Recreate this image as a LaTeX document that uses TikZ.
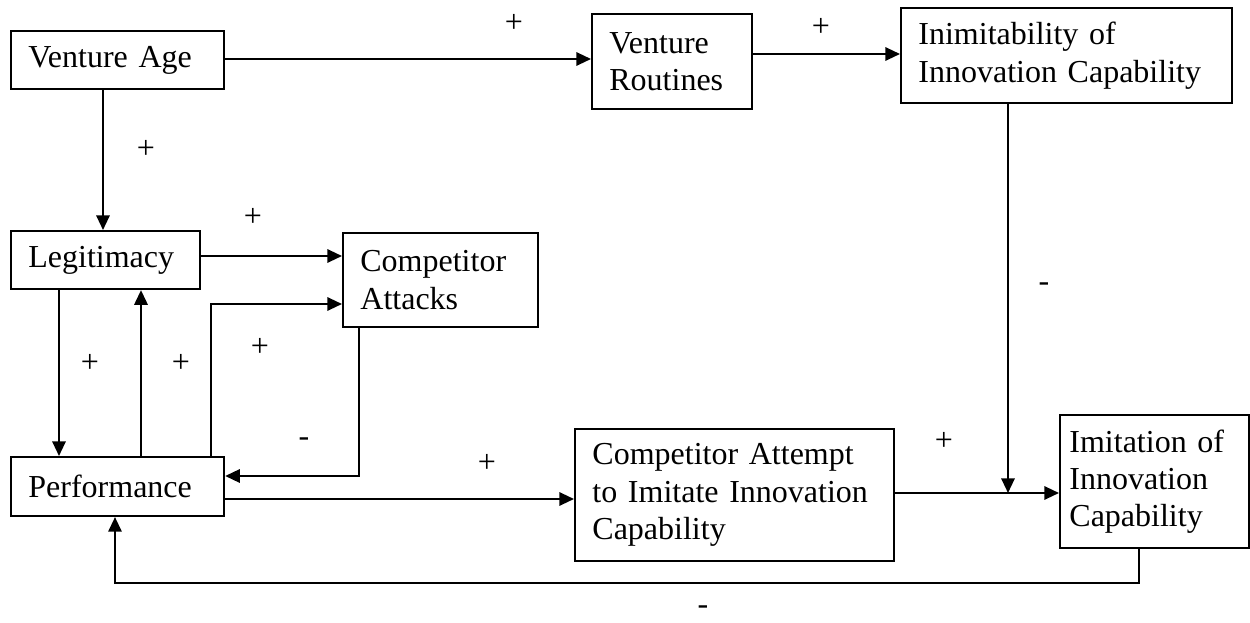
\documentclass[tikz,border=0pt]{standalone}
\usepackage{fontspec}
\setmainfont{Liberation Serif}
\usetikzlibrary{arrows.meta}

\begin{document}
\begin{tikzpicture}[
      x=0.375pt, y=-0.375pt,
      font=\fontsize{12}{14}\selectfont,
      box/.style={rectangle, draw, line width=0.8pt, anchor=north west,
                  align=left, inner xsep=6.5pt, inner ysep=0pt},
      arr/.style={-{Triangle[length=5.5pt, width=5pt]}, line width=0.8pt},
      sign/.style={inner sep=0pt}]
    \useasboundingbox (0,0) rectangle (1250,623);
    \node[box, text width=66.9pt, minimum height=21.75pt] (age) at (10,30) {Venture Age};
    \node[box, text width=47pt, minimum height=35.6pt] (routine) at (591,13) {Venture\\ Routines};
    \node[box, text width=111.1pt, minimum height=35.6pt] (inimit) at (900,7) {Inimitability of\\ Innovation Capability};
    \node[box, text width=57.9pt, minimum height=21.75pt] (legit) at (10,230) {Legitimacy};
    \node[box, text width=60.1pt, minimum height=35.25pt] (attack) at (342,232) {Competitor\\ Attacks};
    \node[box, text width=66.9pt, minimum height=22.1pt] (perf) at (10,456) {Performance};
    \node[box, text width=106.6pt, minimum height=49.5pt] (attempt) at (574,428) {Competitor Attempt\\ to Imitate Innovation\\ Capability};
    \node[box, text width=64pt, inner xsep=3.5pt, minimum height=49.9pt] (imit) at (1059,414) {Imitation of\\ Innovation\\ Capability};
    \coordinate (meet) at (1008,493);
    \draw[arr] (age.east |- 0,59) -- (routine.west |- 0,59);
    \draw[arr] (routine.east |- 0,54) -- (inimit.west |- 0,54);
    \draw[arr] (age.south -| 103,0) -- (legit.north -| 103,0);
    \draw[arr] (legit.east |- 0,256) -- (attack.west |- 0,256);
    \draw[arr] (legit.south -| 59,0) -- (perf.north -| 59,0);
    \draw[arr] (perf.north -| 141,0) -- (legit.south -| 141,0);
    \draw[arr] (perf.north -| 211,0) |- (attack.west |- 0,304);
    \draw[arr] (attack.south -| 359,0) |- (perf.east |- 0,476);
    \draw[arr] (perf.east |- 0,499) -- (attempt.west |- 0,499);
    \draw[arr] (attempt.east |- meet) -- (imit.west |- meet);
    \draw[arr] (inimit.south -| meet) -- (meet);
    \draw[arr] (imit.south -| 1139,0) -- ++(0,34) -| (perf.south -| 115,0);
    \node[sign] (s1) at (514,23) {+};
    \node[sign] (s2) at (821,27) {+};
    \node[sign] (s3) at (146,149) {+};
    \node[sign] (s4) at (253,217) {+};
    \node[sign] (s5) at (90,363) {+};
    \node[sign] (s6) at (181,363) {+};
    \node[sign] (s7) at (260,347) {+};
    \node[sign] (s8) at (304,442) {-};
    \node[sign] (s9) at (487,463) {+};
    \node[sign] (s10) at (944,441) {+};
    \node[sign] (s11) at (1044,287) {-};
    \node[sign] (s12) at (703,610) {-};
  \end{tikzpicture}
\end{document}
